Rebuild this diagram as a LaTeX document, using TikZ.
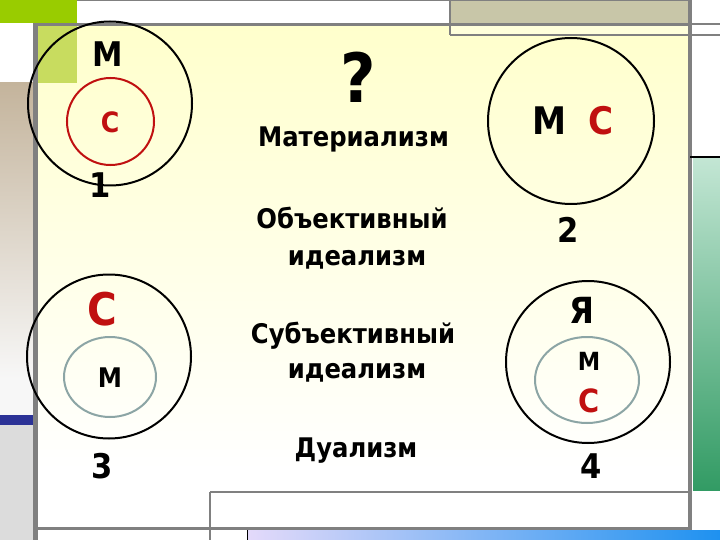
\documentclass[tikz,border=0pt]{standalone}
\usepackage{fontspec}
\setmainfont{DejaVu Sans}[FakeStretch=0.9]
\definecolor{frgray}{RGB}{128,128,128}
\definecolor{pyellow}{RGB}{255,255,204}
\definecolor{lgreen}{RGB}{153,204,0}
\definecolor{sqgreen}{RGB}{200,220,95}
\definecolor{tanblk}{RGB}{200,198,168}
\definecolor{tanstrip}{RGB}{196,180,156}
\definecolor{bluestrip}{RGB}{43,50,150}
\definecolor{lgray}{RGB}{220,220,220}
\definecolor{mintA}{RGB}{195,230,212}
\definecolor{mintB}{RGB}{50,155,100}
\definecolor{lavA}{RGB}{228,218,250}
\definecolor{blueB}{RGB}{30,145,240}
\definecolor{redC}{RGB}{192,16,16}
\definecolor{ellc}{RGB}{140,165,165}
\tikzset{
  lbl/.style={inner sep=0pt, anchor=base, font=\bfseries\fontsize{#1}{#1}\selectfont},
  lbl/.default=27,
  bigcirc/.style={draw=black, line width=2pt},
  innerell/.style={draw=ellc, line width=2pt},
  frame/.style={draw=frgray},
}
\begin{document}
\begin{tikzpicture}[x=1pt,y=-1pt]
\useasboundingbox (0,0) rectangle (720,540);
\fill[white] (0,0) rectangle (720,540);
% content background
\shade[top color=pyellow, bottom color=white] (38,26) rectangle (688,470);
% top-left green block and square
\fill[lgreen] (0,0) rectangle (77,23);
\fill[sqgreen] (38,26) rectangle (77,83);
% left strips
\shade[top color=tanstrip, bottom color=white!97!black] (0,83) rectangle (33,380);
\fill[white!97!black] (0,380) rectangle (33,415);
\fill[bluestrip] (0,415) rectangle (33,425);
\fill[lgray] (0,425) rectangle (33,540);
% tan block top
\fill[tanblk] (450,0) rectangle (689,23);
\fill[pyellow!70!white] (450,26) rectangle (689,34);
\draw[frame, line width=1.5pt] (450,0) -- (450,35);
\draw[frame, line width=1.5pt] (450,35) -- (689,35);
\draw[frame, line width=1.5pt] (77,0.75) -- (690,0.75);
\draw[frame, line width=3pt] (33,24.5) -- (690,24.5);
\draw[frame, line width=2pt] (690,24) -- (720,24);
\draw[frame, line width=1.5pt] (690,35) -- (720,35);
% vertical bars
\fill[frgray] (33,24) rectangle (38,540);
\fill[frgray] (688,0) rectangle (692,540);
% right green gradient
\shade[top color=mintA, bottom color=mintB] (693,158) rectangle (720,490);
\draw[black, line width=1.5pt] (690,157) -- (720,157);
% bottom box and lines
\draw[frame, line width=1.5pt] (210,492) -- (688,492);
\draw[frame, line width=1.5pt] (210,492) -- (210,540);
\draw[frame, line width=3pt] (33,528.5) -- (692,528.5);
\shade[left color=lavA, right color=blueB] (247,530) rectangle (720,540);
\draw[black, line width=1pt] (247,530) -- (247,540);

% circles
\draw[bigcirc] (110,103.5) circle (82);
\draw[draw=redC, line width=2pt] (110.5,121.5) circle (43.5);
\draw[bigcirc] (571,121) circle (83);
\draw[bigcirc] (109,356.5) circle (82);
\draw[innerell] (110,377) ellipse (46 and 40);
\draw[bigcirc] (588,362) ellipse (82 and 81);
\draw[innerell] (587,380) ellipse (52 and 43);

% circle letters
\node[lbl=34] (m1) at (108,67) {М};
\node[lbl=28, text=redC] (s1) at (110,133) {С};
\node[lbl=34] (n1) at (100,198) {1};
\node[lbl=38] (m2) at (550,135) {М};
\node[lbl=38, text=redC] (s2) at (601.5,135) {С};
\node[lbl=34] (n2) at (568,243) {2};
\node[lbl=45, text=redC] (s3) at (102,325) {С};
\node[lbl=27] (m3) at (110,387) {М};
\node[lbl=34] (n3) at (102,478) {3};
\node[lbl=36] (ya4) at (582,323) {Я};
\node[lbl=25] (m4) at (589,370) {М};
\node[lbl=32, text=redC] (s4) at (589,412) {С};
\node[lbl=34] (n4) at (591,478) {4};

% central texts
\node[lbl=68] (q) at (358,103) {?};
\node[lbl] (t1) at (353.5,147) {Материализм};
\node[lbl] (t2a) at (352,229) {Объективный};
\node[lbl] (t2b) at (357,265) {идеализм};
\node[lbl] (t3a) at (353,343) {Субъективный};
\node[lbl] (t3b) at (357,378) {идеализм};
\node[lbl] (t4) at (356,457) {Дуализм};
\end{tikzpicture}
\end{document}
